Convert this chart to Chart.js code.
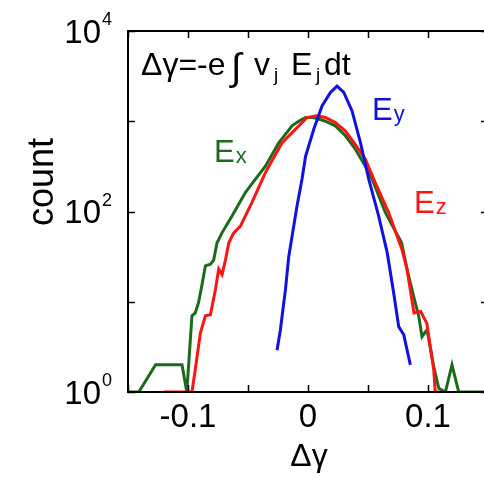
<!DOCTYPE html>
<html>
<head>
<meta charset="utf-8">
<script src="https://cdn.jsdelivr.net/npm/chart.js@4.4.1/dist/chart.umd.min.js"></script>
<style>
  html, body { margin: 0; padding: 0; background: #fff; overflow: hidden; }
  canvas { display: block; }
</style>
</head>
<body>
<canvas id="countChart" width="490" height="477"></canvas>
<script>
// histogram of energy change (zero bins sit on 10^0)
const exGamma = [-0.150, -0.141, -0.127, -0.105, -0.101, -0.0967, -0.0940, -0.0913, -0.0885, -0.0855,
  -0.0813, -0.0786, -0.0758, -0.0717, -0.0633, -0.0522, -0.0438, -0.0355, -0.0244, -0.0133,
  -0.0078, -0.0020, 0.004, 0.009, 0.0145, 0.0228, 0.0312, 0.0395, 0.0478, 0.0534,
  0.0645, 0.078, 0.0828, 0.0881, 0.0923, 0.095, 0.0992, 0.1048, 0.109, 0.1145,
  0.120, 0.1256, 0.150];
const exCount = [1, 1, 2, 2, 1, 7, 7.5, 9.7, 15, 25,
  26, 29, 45, 58, 89, 162, 228, 318, 575, 890,
  1000, 1100, 1100, 1060, 1000, 890, 690, 490, 318, 229,
  97, 45, 22, 11.4, 6.9, 4.1, 4.9, 1.9, 1.1, 1,
  2, 1, 1];

const ezGamma = [-0.120, -0.0967, -0.0940, -0.0897, -0.0855, -0.0813, -0.0772, -0.0744, -0.0716, -0.0688,
  -0.0660, -0.0619, -0.0563, -0.0467, -0.0355, -0.0217, -0.0105, -0.0008, 0.0070, 0.0145,
  0.0228, 0.0312, 0.0395, 0.0478, 0.0561, 0.0673, 0.0783, 0.0825, 0.0883, 0.0939,
  0.0990, 0.1048, 0.1060, 0.1100];
const ezCount = [1, 1, 1.75, 4.5, 7, 7.2, 13.5, 23, 20, 29,
  45, 58, 69, 126, 270, 575, 813, 1100, 1150, 1100,
  970, 780, 550, 380, 208, 97, 38, 23, 7.5, 7.8,
  5.8, 1.76, 1, 1];

const eyGamma = [-0.0258, -0.0230, -0.0188, -0.0160, -0.0133, -0.0092, -0.0050, -0.0020, 0.0048, 0.0117,
  0.0187, 0.0242, 0.0298, 0.0367, 0.0437, 0.0506, 0.0589, 0.0660, 0.0714, 0.0756,
  0.0798, 0.0853];
const eyCount = [2.9, 4.9, 13.6, 32, 53, 114, 228, 410, 815, 1480,
  2090, 2450, 2090, 1300, 580, 228, 89, 35, 12.5, 5.3,
  4.3, 2];

const xTickLabels = [-0.1, 0, 0.1];
const xTickMarks = [-0.15, -0.1, -0.05, 0, 0.05, 0.1, 0.15];
const yTickExponents = [0, 2, 4];
const yTickMarks = [1, 10, 100, 1000, 10000];

const GREEN = '#1c6b1c';
const RED = '#ff1414';
const BLUE = '#1212dc';
const FONT = '"Liberation Sans", Arial, Helvetica, sans-serif';

const toPoints = (xs, ys) => xs.map((x, i) => ({ x: x, y: ys[i] }));

// frame, inward ticks, labels and annotations
const framePlugin = {
  id: 'frame',
  afterDraw(chart) {
    const ctx = chart.ctx;
    const area = chart.chartArea;
    const xs = chart.scales.x;
    const ys = chart.scales.y;
    const tick = 7;

    ctx.save();
    ctx.strokeStyle = '#000';
    ctx.lineWidth = 2;
    ctx.strokeRect(area.left, area.top, area.right - area.left, area.bottom - area.top);

    ctx.lineWidth = 1.5;
    ctx.beginPath();
    xTickMarks.forEach(v => {
      const px = Math.round(xs.getPixelForValue(v)) + 0.5;
      ctx.moveTo(px, area.bottom); ctx.lineTo(px, area.bottom - tick);
      ctx.moveTo(px, area.top); ctx.lineTo(px, area.top + tick);
    });
    yTickMarks.forEach(v => {
      const py = Math.round(ys.getPixelForValue(v)) + 0.5;
      ctx.moveTo(area.left, py); ctx.lineTo(area.left + tick, py);
      ctx.moveTo(area.right, py); ctx.lineTo(area.right - tick, py);
    });
    ctx.stroke();

    ctx.fillStyle = '#000';
    // y tick labels 10^n
    yTickExponents.forEach(n => {
      const py = ys.getPixelForValue(Math.pow(10, n));
      ctx.font = '33px ' + FONT;
      ctx.textAlign = 'right';
      ctx.textBaseline = 'alphabetic';
      ctx.fillText('10', 101, py + 11.5);
      ctx.font = '18px ' + FONT;
      ctx.textAlign = 'left';
      ctx.fillText(String(n), 102, py - 6);
    });

    // x tick labels
    ctx.font = '33px ' + FONT;
    ctx.textAlign = 'center';
    xTickLabels.forEach(v => {
      ctx.fillText(String(v), xs.getPixelForValue(v), 427);
    });

    // axis titles
    ctx.font = '32px ' + FONT;
    ctx.fillText('Δγ', 309, 466);
    ctx.save();
    ctx.translate(53, 182);
    ctx.rotate(-Math.PI / 2);
    ctx.font = '36px ' + FONT;
    ctx.textBaseline = 'alphabetic';
    ctx.fillText('count', 0, 0);
    ctx.restore();

    // formula
    ctx.textAlign = 'left';
    ctx.font = '32px ' + FONT;
    ctx.fillText('Δγ=-e', 141, 75);
    ctx.fillText('v', 254, 75);
    ctx.fillText('E', 291, 75);
    ctx.fillText('dt', 324, 75);
    ctx.font = '38px ' + FONT;
    ctx.fillText('∫', 231, 80);
    ctx.font = '19px ' + FONT;
    ctx.fillText('j', 274, 81);
    ctx.fillText('j', 316, 81);

    // series labels
    const label = (main, sub, x, y, color) => {
      ctx.fillStyle = color;
      ctx.font = '31px ' + FONT;
      ctx.fillText(main, x, y);
      const w = ctx.measureText(main).width;
      ctx.font = '22px ' + FONT;
      ctx.fillText(sub, x + w + 1, y + 1);
    };
    label('E', 'x', 214, 162, GREEN);
    label('E', 'y', 372, 120, BLUE);
    label('E', 'z', 414, 213, RED);
    ctx.restore();
  }
};

const ctx = document.getElementById('countChart').getContext('2d');
new Chart(ctx, {
  type: 'line',
  data: {
    datasets: [
      { label: 'Ey', data: toPoints(eyGamma, eyCount), borderColor: BLUE },
      { label: 'Ez', data: toPoints(ezGamma, ezCount), borderColor: RED },
      { label: 'Ex', data: toPoints(exGamma, exCount), borderColor: GREEN },
    ],
  },
  options: {
    responsive: false,
    animation: false,
    devicePixelRatio: 1,
    layout: { padding: { left: 128, top: 31, right: 2, bottom: 85 } },
    elements: {
      point: { radius: 0 },
      line: { borderWidth: 3, tension: 0, fill: false },
    },
    scales: {
      x: { type: 'linear', min: -0.15, max: 0.15, display: false },
      y: { type: 'logarithmic', min: 1, max: 10000, display: false },
    },
    plugins: { legend: { display: false }, tooltip: { enabled: false } },
  },
  plugins: [framePlugin],
});
</script>
</body>
</html>
